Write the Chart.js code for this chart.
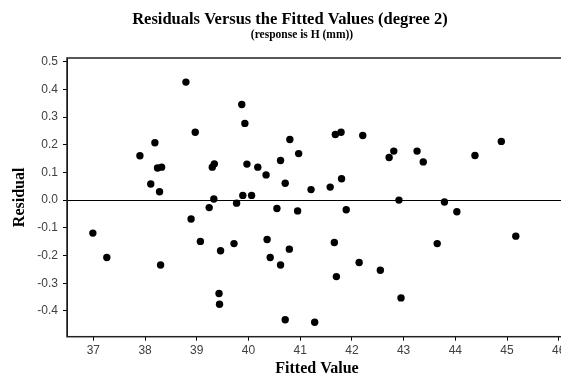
<!DOCTYPE html>
<html>
<head>
<meta charset="utf-8">
<script src="https://cdn.jsdelivr.net/npm/chart.js@4.4.1/dist/chart.umd.min.js"></script>
<style>
  html, body { margin: 0; padding: 0; background: #fff; overflow: hidden; width: 561px; height: 378px; }
  canvas { display: block; }
</style>
</head>
<body>
<canvas id="c" width="592" height="378"></canvas>
<script>
const titleText = "Residuals Versus the Fitted Values (degree 2)";
const subtitleText = "(response is H (mm))";
const xAxisTitle = "Fitted Value";
const yAxisTitle = "Residual";

const fittedValues = [
  36.99, 37.26, 37.90, 38.11, 38.19, 38.24, 38.32, 38.28, 38.30, 38.79,
  38.89, 38.97, 39.07, 39.24, 39.30, 39.34, 39.33, 39.43, 39.44, 39.46,
  39.72, 39.77, 39.87, 39.89, 39.93, 39.97, 40.06, 40.18, 40.34, 40.36,
  40.42, 40.55, 40.62, 40.62, 40.71, 40.71, 40.79, 40.80, 40.95, 40.97,
  41.21, 41.28, 41.58, 41.66, 41.68, 41.70, 41.79, 41.80, 41.89, 42.14,
  42.21, 42.55, 42.72, 42.81, 42.91, 42.95, 43.26, 43.38, 43.65, 43.79,
  44.03, 44.38, 44.89, 45.17
];
const residuals = [
  -0.119, -0.207, 0.160, 0.058, 0.207, 0.116, 0.119, 0.030, -0.234, 0.426,
  -0.068, 0.245, -0.149, -0.027, 0.119, 0.131, 0.004, -0.337, -0.376, -0.183,
  -0.157, -0.011, 0.345, 0.017, 0.277, 0.130, 0.017, 0.119, 0.091, -0.142,
  -0.207, -0.030, 0.143, -0.234, 0.061, -0.432, -0.177, 0.219, -0.039, 0.168,
  0.038, -0.441, 0.047, -0.153, 0.237, -0.276, 0.245, 0.077, -0.035, -0.225,
  0.233, -0.253, 0.154, 0.177, 0.000, -0.353, 0.177, 0.138, -0.157, -0.007,
  -0.042, 0.161, 0.212, -0.130
];
const xTicks = [37, 38, 39, 40, 41, 42, 43, 44, 45, 46];
const yTicks = [-0.4, -0.3, -0.2, -0.1, 0.0, 0.1, 0.2, 0.3, 0.4, 0.5];

const points = fittedValues.map((x, i) => ({ x: x, y: residuals[i] }));

const tickFont = { family: "'Liberation Sans', Arial, sans-serif", size: 12 };
const serifBold = "'Liberation Serif', 'Times New Roman', serif";

const framePlugin = {
  id: 'frameAndTitles',
  afterDraw(chart) {
    const { ctx, chartArea } = chart;
    ctx.save();
    ctx.strokeStyle = '#222';
    ctx.lineWidth = 1.5;
    ctx.strokeRect(chartArea.left, chartArea.top, chartArea.right - chartArea.left, chartArea.bottom - chartArea.top);
    ctx.fillStyle = '#000';
    ctx.textAlign = 'center';
    ctx.textBaseline = 'alphabetic';
    ctx.font = "bold 16.5px " + serifBold;
    ctx.fillText(titleText, 290, 24);
    ctx.font = "bold 11.5px " + serifBold;
    ctx.fillText(subtitleText, 302, 38);
    ctx.restore();
  }
};

new Chart(document.getElementById('c'), {
  type: 'scatter',
  data: {
    datasets: [{
      data: points,
      backgroundColor: '#000',
      borderColor: '#000',
      pointRadius: 3.7,
      pointHoverRadius: 3.7,
      borderWidth: 0
    }]
  },
  options: {
    responsive: false,
    animation: false,
    events: [],
    layout: { padding: { top: 58, right: 25, bottom: 0, left: 0 } },
    plugins: { legend: { display: false }, tooltip: { enabled: false }, title: { display: false } },
    scales: {
      x: {
        type: 'linear',
        min: 36.49,
        max: 46.16,
        afterBuildTicks: (s) => { s.ticks = xTicks.map(v => ({ value: v })); },
        afterFit: (s) => { s.height = 41.3; },
        ticks: {
          color: '#404040',
          font: tickFont,
          padding: 3,
          maxRotation: 0,
          autoSkip: false,
          callback: (v) => String(v)
        },
        grid: { drawOnChartArea: false, drawTicks: true, tickLength: 4, tickColor: '#000', color: '#000' },
        border: { display: true, color: '#000', width: 1 },
        title: {
          display: true, text: xAxisTitle, color: '#000',
          font: { family: serifBold, size: 16, weight: 'bold' },
          padding: { top: 0, bottom: 0 }
        }
      },
      y: {
        type: 'linear',
        min: -0.493,
        max: 0.513,
        afterBuildTicks: (s) => { s.ticks = yTicks.map(v => ({ value: v })); },
        afterFit: (s) => { s.width = 67; },
        ticks: {
          color: '#404040',
          font: tickFont,
          padding: 5,
          autoSkip: false,
          callback: (v) => Number(v).toFixed(1)
        },
        grid: {
          drawOnChartArea: true,
          drawTicks: true,
          tickLength: 4,
          tickColor: '#000',
          color: (c) => (c.tick && Math.abs(c.tick.value) < 1e-9) ? '#000' : 'rgba(0,0,0,0)',
          lineWidth: 1
        },
        border: { display: true, color: '#000', width: 1 },
        title: {
          display: true, text: yAxisTitle, color: '#000',
          font: { family: serifBold, size: 16, weight: 'bold' },
          padding: { top: 10, bottom: 0 }
        }
      }
    }
  },
  plugins: [framePlugin]
});
</script>
</body>
</html>
